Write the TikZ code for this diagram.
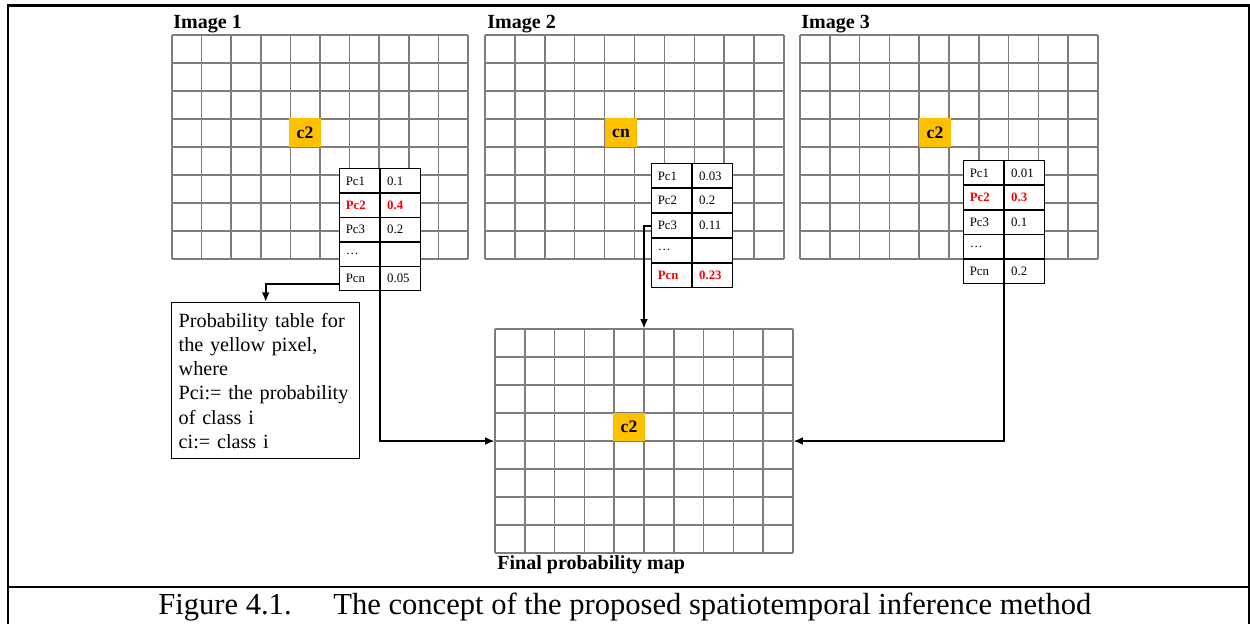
\documentclass[tikz,border=0pt]{standalone}
\usepackage{fontspec}
\setmainfont{Liberation Serif}
\usetikzlibrary{arrows.meta}
\definecolor{pixyellow}{RGB}{255,192,0}
\definecolor{gridgray}{RGB}{125,125,125}
\definecolor{probred}{RGB}{255,0,0}
\newcommand{\hot}{\bfseries\color{probred}}

\begin{document}
\begin{tikzpicture}[x=0.02cm, y=-0.02cm,
    gridline/.style={gridgray, line width=0.9pt},
    pixel/.style={fill=pixyellow, minimum width=0.64cm, minimum height=0.58cm, inner sep=0pt, font=\fontsize{10}{12}\selectfont\bfseries},
    cell/.style={draw, fill=white, line width=0.8pt, minimum width=0.8cm, minimum height=0.49cm, inner sep=0pt, text width=0.54cm, align=left, font=\fontsize{7.3}{8}\selectfont},
    title/.style={anchor=base west, inner sep=0pt, font=\fontsize{11.4}{13}\selectfont\bfseries},
    flow/.style={line width=1.1pt, -{Latex[length=5.5pt, width=4.5pt]}}]
  \useasboundingbox (0,0) rectangle (1250,624);

  % frame of the figure cell
  \draw[line width=1.4pt] (8,624) -- (8,5.5) -- (1250,5.5);
  \draw[line width=1.4pt] (8,587) -- (1250,587);
  \draw[line width=1.4pt] (1249,5.5) -- (1249,624);

  % pixel grids
  \foreach \gx/\gy/\gw in {172/35/296, 485/35/299, 800/35/298, 495/329/298} {
    \foreach \i in {0,...,10}
      \draw[gridline] ({\gx+\i*\gw/10},\gy) -- ++(0,224);
    \foreach \j in {0,...,8}
      \draw[gridline] (\gx,{\gy+\j*28}) -- ++(\gw,0);
  }
  \node[minimum width=5.96cm, minimum height=4.48cm, inner sep=0pt] (final) at (644,441) {};

  \node[title] (lab1) at (173,29) {Image 1};
  \node[title] (lab2) at (487,29) {Image 2};
  \node[title] (lab3) at (801,29) {Image 3};
  \node[title] (labf) at (497,569) {Final probability map};

  % yellow pixels
  \node[pixel] (px1) at (305,133) {c2};
  \node[pixel] (px2) at (621,133) {cn};
  \node[pixel] (px3) at (935,133) {c2};
  \node[pixel] (pxf) at (629,427) {c2};

  % probability tables
  \foreach \a/\b [count=\r] in {Pc1/0.1, {\hot Pc2}/{\hot 0.4}, Pc3/0.2, \ldots/{}, Pcn/0.05} {
    \node[cell, anchor=north east] (t1l\r) at (380,{168+(\r-1)*24.4}) {\a};
    \node[cell, anchor=north west] (t1v\r) at (380,{168+(\r-1)*24.4}) {\b};
  }
  \foreach \a/\b [count=\r] in {Pc1/0.03, Pc2/0.2, Pc3/0.11, \ldots/{}, {\hot Pcn}/{\hot 0.23}} {
    \node[cell, anchor=north east] (t2l\r) at (692,{163+(\r-1)*24.8}) {\a};
    \node[cell, anchor=north west] (t2v\r) at (692,{163+(\r-1)*24.8}) {\b};
  }
  \foreach \a/\b [count=\r] in {Pc1/0.01, {\hot Pc2}/{\hot 0.3}, Pc3/0.1, \ldots/{}, Pcn/0.2} {
    \node[cell, anchor=north east] (t3l\r) at (1004,{160+(\r-1)*24.6}) {\a};
    \node[cell, anchor=north west] (t3v\r) at (1004,{160+(\r-1)*24.6}) {\b};
  }

  \node[draw, line width=0.8pt, anchor=north west, text width=3.48cm, inner xsep=0.14cm, inner ysep=0.1cm, minimum height=3.12cm, align=left, font=\fontsize{11.5}{13.8}\selectfont] (note) at (171,302)
    {Probability table for\\the yellow pixel,\\where\\Pci:= the probability\\of class i\\ci:= class i};

  % arrows
  \draw[flow] ([yshift=-0.1cm]t1l5.west) -| (note.north);
  \draw[flow] (t1l5.south east) |- (final.west);
  \draw[flow] (t2l3.west) -| (final.north);
  \draw[flow] (t3l5.south east) |- (final.east);

  % caption
  \node[anchor=base west, inner sep=0pt, font=\fontsize{17.4}{20}\selectfont] (fignum) at (158,614) {Figure 4.1.};
  \node[anchor=base west, inner sep=0pt, font=\fontsize{17.4}{20}\selectfont] (figcap) at (333,614) {The concept of the proposed spatiotemporal inference method};
\end{tikzpicture}
\end{document}
